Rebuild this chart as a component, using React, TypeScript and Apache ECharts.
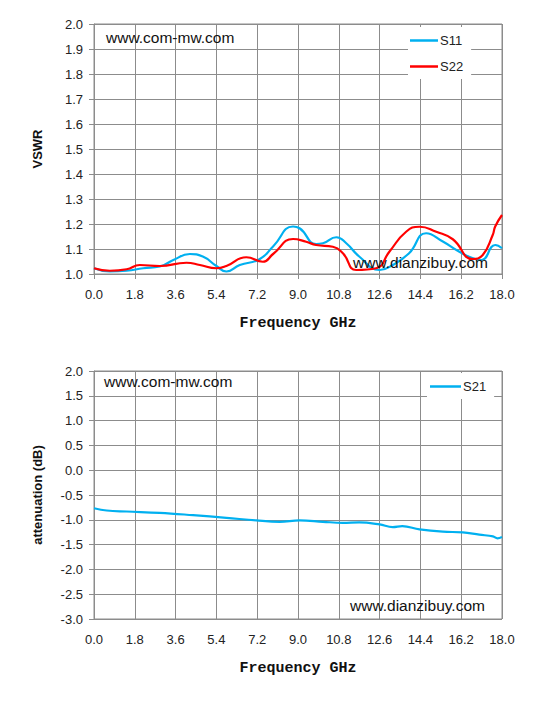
import React, { useEffect, useRef } from "react";
import * as echarts from "echarts";

const s11Freq = [0, 0.7, 1.44, 2.17, 2.9, 3.5, 4.23, 4.8, 5.4, 5.84, 6.43, 7.3, 7.9, 8.78, 9.07, 9.8, 10.1, 10.69, 11.13, 11.7, 12.6, 13.18, 13.9, 14.65, 15.39, 16.1, 16.85, 17.1, 17.7, 18];
const s11Vals = [1.023, 1.01, 1.013, 1.023, 1.03, 1.056, 1.08, 1.07, 1.032, 1.01, 1.036, 1.059, 1.11, 1.19, 1.183, 1.12, 1.123, 1.147, 1.123, 1.07, 1.016, 1.036, 1.083, 1.163, 1.13, 1.09, 1.059, 1.056, 1.116, 1.103];

const s22Freq = [0, 0.7, 1.44, 2.02, 2.9, 4.08, 4.67, 5.4, 5.84, 6.72, 7.45, 7.9, 8.78, 9.36, 9.8, 10.54, 10.98, 11.57, 12.45, 13.03, 13.77, 14.36, 15.1, 15.83, 16.7, 17.15, 17.59, 17.7, 18];
const s22Vals = [1.023, 1.013, 1.019, 1.036, 1.032, 1.045, 1.036, 1.023, 1.032, 1.067, 1.049, 1.08, 1.14, 1.129, 1.116, 1.109, 1.083, 1.016, 1.023, 1.089, 1.169, 1.189, 1.169, 1.139, 1.06, 1.076, 1.156, 1.19, 1.236];

const s21Freq = [0, 0.56, 1.44, 2.9, 4.37, 5.84, 7.16, 8.19, 9.07, 10.1, 10.98, 11.7, 12.6, 13.18, 13.6, 14.36, 15.39, 16.27, 17.0, 17.6, 17.8, 18];
const s21Vals = [-0.767, -0.813, -0.833, -0.86, -0.907, -0.96, -1.013, -1.04, -1.013, -1.04, -1.06, -1.053, -1.093, -1.147, -1.127, -1.193, -1.24, -1.253, -1.3, -1.333, -1.373, -1.347];

const watermarkTop = "www.com-mw.com";
const watermarkBottom = "www.dianzibuy.com";

const zip = (xs: number[], ys: number[]) => xs.map((x, i) => [x, ys[i]]);

const BLUE = "#00B0F0";
const RED = "#FF0000";
const GRID = "#8c8c8c";
const LABEL_FONT = "Liberation Sans, Arial, sans-serif";
const MONO_FONT = "Liberation Mono, Courier New, monospace";

export default function App() {
  const ref = useRef<HTMLDivElement>(null);
  useEffect(() => {
    const chart = echarts.init(ref.current!, null, { renderer: "svg" });
    const xAxisBase = (gridIndex: number) => ({
      type: "value",
      gridIndex,
      min: 0,
      max: 18,
      interval: 1.8,
      name: "Frequency GHz",
      nameLocation: "middle",
      nameGap: 42,
      nameTextStyle: { fontFamily: MONO_FONT, fontWeight: "bold", fontSize: 15, color: "#111" },
      axisLine: { show: true, lineStyle: { color: GRID, width: 1 } },
      axisTick: { show: true, length: 5, lineStyle: { color: GRID } },
      axisLabel: { margin: 14, fontSize: 13, color: "#222", fontFamily: LABEL_FONT, formatter: (v: number) => v.toFixed(1) },
      splitLine: { show: true, lineStyle: { color: GRID, width: 1 } },
    });
    const yAxisBase = (gridIndex: number, min: number, max: number, interval: number, name: string) => ({
      type: "value",
      gridIndex,
      min,
      max,
      interval,
      name,
      nameLocation: "middle",
      nameGap: 50,
      nameRotate: 90,
      nameTextStyle: { fontFamily: LABEL_FONT, fontWeight: "bold", fontSize: 13, color: "#111" },
      axisLine: { show: true, lineStyle: { color: GRID, width: 1 } },
      axisTick: { show: true, length: 5, lineStyle: { color: GRID } },
      axisLabel: { margin: 11, fontSize: 13, color: "#222", fontFamily: LABEL_FONT, formatter: (v: number) => v.toFixed(1) },
      splitLine: { show: true, lineStyle: { color: GRID, width: 1 } },
    });
    chart.setOption({
      animation: false,
      backgroundColor: "#fff",
      grid: [
        { left: 94, right: 44, top: 24, height: 250, show: true, borderColor: GRID, borderWidth: 1 },
        { left: 94, right: 44, top: 371, height: 248, show: true, borderColor: GRID, borderWidth: 1 },
      ],
      xAxis: [xAxisBase(0), xAxisBase(1)],
      yAxis: [
        yAxisBase(0, 1, 2, 0.1, "VSWR"),
        yAxisBase(1, -3, 2, 0.5, "attenuation (dB)"),
      ],
      legend: [
        {
          data: ["S11", "S22"],
          orient: "vertical",
          left: 408,
          top: 27,
          icon: "rect",
          itemWidth: 28,
          itemHeight: 2.5,
          itemGap: 13,
          padding: [7, 8, 6, 2],
          backgroundColor: "#fff",
          textStyle: { fontSize: 13, color: "#222", fontFamily: LABEL_FONT, padding: [0, 0, 0, -3] },
        },
        {
          data: ["S21"],
          orient: "vertical",
          left: 427,
          top: 373,
          icon: "rect",
          itemWidth: 31,
          itemHeight: 2.5,
          padding: [7, 8, 6, 3],
          backgroundColor: "#fff",
          textStyle: { fontSize: 13, color: "#222", fontFamily: LABEL_FONT, padding: [0, 0, 0, -3] },
        },
      ],
      graphic: [
        { type: "text", left: 106, top: 29, z: 100, style: { text: watermarkTop, fontSize: 15.5, fill: "#111", fontFamily: LABEL_FONT } },
        { type: "text", left: 353, top: 254, z: 100, style: { text: watermarkBottom, fontSize: 15.5, fill: "#111", fontFamily: LABEL_FONT } },
        { type: "text", left: 104, top: 373, z: 100, style: { text: watermarkTop, fontSize: 15.5, fill: "#111", fontFamily: LABEL_FONT } },
        { type: "text", left: 350, top: 597, z: 100, style: { text: watermarkBottom, fontSize: 15.5, fill: "#111", fontFamily: LABEL_FONT } },
      ],
      series: [
        { name: "S11", type: "line", xAxisIndex: 0, yAxisIndex: 0, data: zip(s11Freq, s11Vals), smooth: 0.5, symbol: "none", lineStyle: { color: BLUE, width: 2.2 }, itemStyle: { color: BLUE } },
        { name: "S22", type: "line", xAxisIndex: 0, yAxisIndex: 0, data: zip(s22Freq, s22Vals), smooth: 0.5, symbol: "none", lineStyle: { color: RED, width: 2.2 }, itemStyle: { color: RED } },
        { name: "S21", type: "line", xAxisIndex: 1, yAxisIndex: 1, data: zip(s21Freq, s21Vals), smooth: 0.4, symbol: "none", lineStyle: { color: BLUE, width: 2.2 }, itemStyle: { color: BLUE } },
      ],
    });
    return () => chart.dispose();
  }, []);
  return <div ref={ref} style={{ position: "fixed", left: 0, top: 0, width: 546, height: 704 }} />;
}
